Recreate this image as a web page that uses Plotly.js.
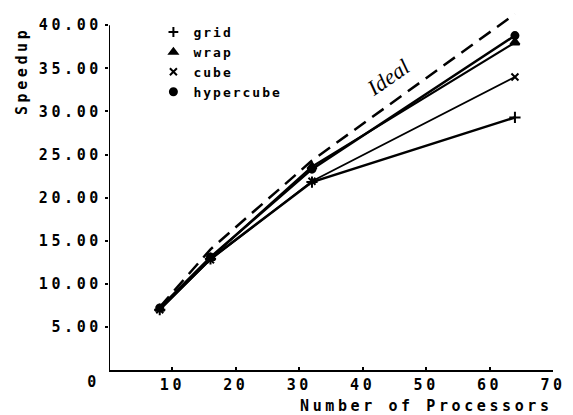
<!DOCTYPE html>
<html>
<head>
<meta charset="utf-8">
<script src="https://cdn.plot.ly/plotly-3.0.1.min.js"></script>
<style>
html,body{margin:0;padding:0;background:#fff;}
#chart{width:573px;height:415px;}
.xtick text,.ytick text{letter-spacing:3.6px;}
.legendtext{letter-spacing:2px;}
</style>
</head>
<body>
<div id="chart"></div>
<script>
// Data
const procs = [8, 16, 32, 64];
const grid = [7.0, 12.9, 21.8, 29.3];
const wrap = [7.1, 13.0, 23.6, 38.0];
const cube = [7.0, 12.8, 21.9, 34.0];
const hypercube = [7.2, 13.1, 23.3, 38.8];
const ideal = [7.3, 14.0, 24.3, 41.3];
const xTickVals = [10, 20, 30, 40, 50, 60, 70];
const yTickVals = [5, 10, 15, 20, 25, 30, 35, 40];
const yTickText = ["5.00", "10.00", "15.00", "20.00", "25.00", "30.00", "35.00", "40.00"];

const mono = {family: "DejaVu Sans Mono", size: 15, color: "#000", weight: "bold"};
const black = "#000";

const series = [
  {name: "grid", y: grid, symbol: "cross-thin-open", size: 8, width: 2.5},
  {name: "wrap", y: wrap, symbol: "triangle-up", size: 8, width: 2.2},
  {name: "cube", y: cube, symbol: "x-thin-open", size: 7, width: 1.8},
  {name: "hypercube", y: hypercube, symbol: "circle", size: 7, width: 2.5}
];

const traces = [];
traces.push({
  x: procs, y: ideal, mode: "lines", name: "Ideal", showlegend: false,
  line: {color: black, width: 2.5, dash: "14px,8px"}
});
series.forEach(s => {
  traces.push({
    x: procs, y: s.y, mode: "lines+markers", name: s.name, showlegend: false,
    line: {color: black, width: s.width},
    marker: {symbol: s.symbol, size: s.size, color: black, line: {color: black, width: 2}}
  });
});
series.forEach(s => {
  traces.push({
    x: [null], y: [null], mode: "markers", name: s.name, showlegend: true,
    marker: {symbol: s.symbol, size: 7, color: black, line: {color: black, width: 2}}
  });
});

const layout = {
  width: 573, height: 415,
  margin: {l: 109, r: 20, t: 8, b: 45},
  paper_bgcolor: "#fff", plot_bgcolor: "#fff",
  showlegend: true,
  legend: {
    x: 0.1, y: 0.975, xanchor: "left", yanchor: "top",
    bgcolor: "rgba(0,0,0,0)",
    font: {family: "DejaVu Sans Mono", size: 13, color: black, weight: "bold"},
    itemwidth: 30, tracegroupgap: 0
  },
  xaxis: {
    range: [0, 70], tickvals: xTickVals, ticktext: xTickVals.map(String),
    showline: true, linecolor: black, linewidth: 2,
    ticks: "inside", ticklen: 3, tickcolor: black, tickwidth: 2,
    showgrid: false, zeroline: false, tickfont: mono
  },
  yaxis: {
    range: [0, 42], tickvals: yTickVals, ticktext: yTickText,
    showline: false,
    ticks: "outside", ticklen: 3, tickcolor: black, tickwidth: 2,
    showgrid: false, zeroline: false, tickfont: mono
  },
  shapes: [
    {type: "line", xref: "x", yref: "y", x0: 0, x1: 0, y0: 0, y1: 40,
     line: {color: black, width: 2}}
  ],
  annotations: [
    {text: "0", x: 0, y: 0, xref: "x", yref: "y", showarrow: false,
     xshift: -16, yshift: -12, font: mono},
    {text: "Number of Processors", xref: "paper", yref: "paper", x: 1.0, y: 0,
     xanchor: "right", yanchor: "middle", xshift: -34, yshift: -36, showarrow: false, font: mono},
    {text: "Speedup", xref: "paper", yref: "paper", x: 0, y: 1, textangle: -90,
     xanchor: "center", yanchor: "top", xshift: -88, yshift: -30, showarrow: false, font: mono},
    {text: "Ideal", x: 44, y: 33.9, xref: "x", yref: "y", showarrow: false, textangle: -35,
     font: {family: "Liberation Serif", size: 22, color: black, style: "italic"}}
  ]
};

Plotly.newPlot("chart", traces, layout, {staticPlot: true, displayModeBar: false}).then(() => {
  document.querySelectorAll(".annotation-text").forEach(t => {
    const s = t.textContent;
    if (s === "Number of Processors" || s === "Speedup" || s === "0") t.style.letterSpacing = "3.6px";
  });
});
</script>
</body>
</html>
